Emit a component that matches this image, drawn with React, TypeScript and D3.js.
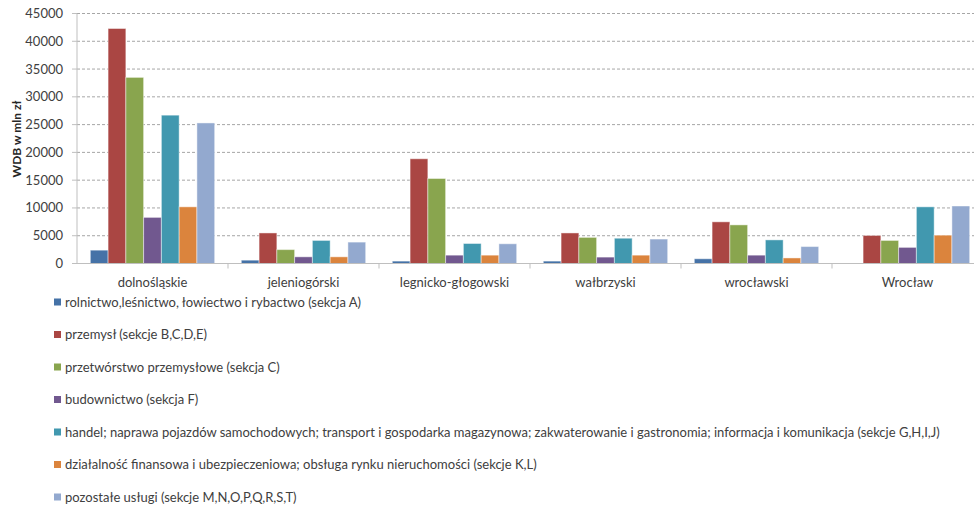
import * as d3 from "d3";

const categories = ["dolnośląskie", "jeleniogórski", "legnicko-głogowski", "wałbrzyski", "wrocławski", "Wrocław"];

const seriesNames = [
  "rolnictwo,leśnictwo, łowiectwo i rybactwo (sekcja A)",
  "przemysł (sekcje B,C,D,E)",
  "przetwórstwo przemysłowe (sekcja C)",
  "budownictwo (sekcja F)",
  "handel; naprawa pojazdów samochodowych; transport i gospodarka magazynowa; zakwaterowanie i gastronomia; informacja i komunikacja (sekcje G,H,I,J)",
  "działalność finansowa i ubezpieczeniowa; obsługa rynku nieruchomości (sekcje K,L)",
  "pozostałe usługi (sekcje M,N,O,P,Q,R,S,T)",
];

const rolnictwo = [2400, 600, 430, 430, 850, 0];
const przemysl = [42300, 5500, 18850, 5500, 7500, 5050];
const przetworstwo = [33500, 2500, 15300, 4700, 6950, 4150];
const budownictwo = [8300, 1200, 1500, 1150, 1500, 2900];
const handel = [26700, 4150, 3600, 4550, 4250, 10200];
const finanse = [10200, 1200, 1500, 1500, 1000, 5100];
const uslugi = [25300, 3850, 3550, 4400, 3050, 10350];

const seriesValues = [rolnictwo, przemysl, przetworstwo, budownictwo, handel, finanse, uslugi];
const colors = ["#4572A7", "#AA4643", "#89A54E", "#71588F", "#4198AF", "#DB843D", "#93A9CF"];
const yTicks = [0, 5000, 10000, 15000, 20000, 25000, 30000, 35000, 40000, 45000];

const W = 974;
const H = 505;
const left = 77;
const right = 983;
const top = 13.5;
const bottom = 263.5;
const font = "Lato, 'Open Sans', sans-serif";
const textColor = "#404040";

export default function App() {
  const x0 = d3.scaleBand<string>().domain(categories).range([left, right]).padding(0);
  const idx = seriesNames.map((_, i) => String(i));
  const x1 = d3.scaleBand<string>().domain(idx).range([0, x0.bandwidth()]).paddingInner(0).paddingOuter(0.75);
  const y = d3.scaleLinear().domain([0, 45000]).range([bottom, top]);
  const legendY = d3.scalePoint<string>().domain(idx).range([302, 497]);

  return (
    <svg width={W} height={H} style={{ position: "absolute", left: 0, top: 0, background: "#fff" }} fontFamily={font}>
      <rect width={W} height={H} fill="#fff" />
      {yTicks.map((t) => (
        <g key={t}>
          {t > 0 && (
            <line x1={left} x2={W} y1={y(t)} y2={y(t)} stroke="#a6a6a6" strokeWidth={1} strokeDasharray="3,2" />
          )}
          <line x1={left - 5} x2={left} y1={y(t)} y2={y(t)} stroke="#bfbfbf" />
          <text x={63} y={y(t)} dy="0.35em" textAnchor="end" fontSize={13} fill={textColor}>
            {t}
          </text>
        </g>
      ))}
      {seriesValues.map((vals, s) =>
        vals.map((v, c) =>
          v > 0 ? (
            <rect
              key={`${s}-${c}`}
              x={(x0(categories[c]) ?? 0) + (x1(String(s)) ?? 0)}
              y={y(v)}
              width={x1.bandwidth()}
              height={bottom - y(v)}
              fill={colors[s]}
              stroke="rgba(255,255,255,0.45)"
              strokeWidth={1}
            />
          ) : null
        )
      )}
      <line x1={left} x2={left} y1={top} y2={bottom} stroke="#bfbfbf" />
      <line x1={left} x2={W} y1={bottom} y2={bottom} stroke="#bfbfbf" />
      {categories.map((c, i) => (
        <g key={c}>
          {i > 0 && <line x1={x0(c)} x2={x0(c)} y1={bottom} y2={bottom + 5} stroke="#bfbfbf" />}
          <text x={(x0(c) ?? 0) + x0.bandwidth() / 2} y={282} dy="0.35em" textAnchor="middle" fontSize={13} fill={textColor}>
            {c}
          </text>
        </g>
      ))}
      <text
        transform={`translate(17, 139) rotate(-90)`}
        textAnchor="middle"
        dy="0.35em"
        fontSize={12}
        fontWeight="bold"
        fill="#262626"
      >
        WDB w mln zł
      </text>
      {seriesNames.map((n, i) => {
        const ly = legendY(String(i)) ?? 0;
        return (
          <g key={n}>
            <rect x={54} y={ly - 3.5} width={7} height={7} fill={colors[i]} />
            <text x={65} y={ly} dy="0.35em" fontSize={13} fill={textColor}>
              {n}
            </text>
          </g>
        );
      })}
    </svg>
  );
}
